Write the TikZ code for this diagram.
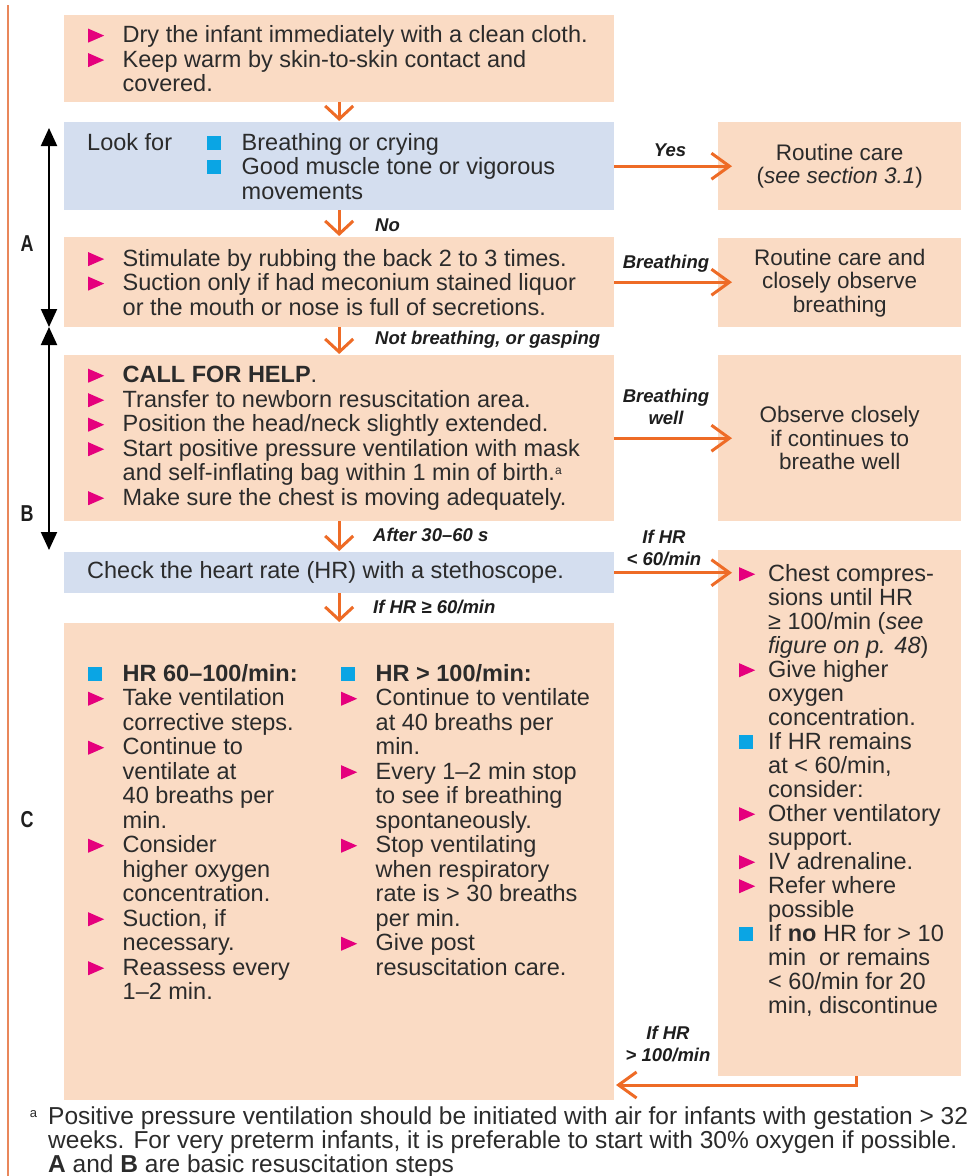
\documentclass[tikz,border=0pt]{standalone}
\usepackage{fontspec}
\setmainfont{Liberation Sans}
\newfontfamily\abcfont[FakeStretch=0.78]{Liberation Sans}
\usetikzlibrary{arrows.meta}
\definecolor{peach}{HTML}{FADBC4}
\definecolor{lblue}{HTML}{D4DEEF}
\definecolor{orarr}{HTML}{EE6B26}
\definecolor{bmag}{HTML}{E5007D}
\definecolor{bcyan}{HTML}{0AA5E4}
\definecolor{txtc}{HTML}{2B2B2B}
\definecolor{lblc}{HTML}{1E1E1E}
\definecolor{sideline}{HTML}{E9875B}
\newcommand\tri{\tikz[baseline=0pt]\fill[bmag](0pt,0pt)--(0pt,14pt)--(16pt,7pt)--cycle;}
\newcommand\sqb{\tikz[baseline=0pt]\fill[bcyan](0pt,0.5pt) rectangle (14pt,14.5pt);}
\newcommand\TI{\makebox[34.5pt][l]{\tri}}
\newcommand\SQ{\makebox[34.5pt][l]{\sqb}}
\newcommand\IN{\hspace*{34.5pt}}
\newcommand\TIc{\makebox[29pt][l]{\tri}}
\newcommand\SQc{\makebox[29pt][l]{\sqb}}
\newcommand\INc{\hspace*{29pt}}
\newcommand\supa{\raisebox{6pt}{\fontsize{12}{12}\selectfont a}}
\tikzset{
  pbox/.style={fill=peach, draw=none, inner sep=0pt, anchor=north west},
  bbox/.style={fill=lblue, draw=none, inner sep=0pt, anchor=north west},
  txt/.style={inner sep=0pt, align=left, text=txtc, font=\fontsize{23.5}{24.5}\selectfont},
  ctxt/.style={inner sep=0pt, align=center, text=txtc, font=\fontsize{22.5}{23.5}\selectfont},
  lbl/.style={inner sep=0pt, text=lblc, align=center, font=\fontsize{18.5}{21.5}\selectfont\bfseries\itshape},
  abc/.style={inner sep=0pt, text=lblc, font=\fontsize{23}{23}\abcfont\bfseries},
  darr/.style={draw=orarr, line width=3pt, -{Straight Barb[length=13pt,width=28pt,line width=3pt]}},
  harr/.style={draw=orarr, line width=3pt, -{Straight Barb[length=18pt,width=26pt,line width=3pt]}},
  barr/.style={draw=black, line width=2pt, {Triangle[length=18pt,width=16pt]}-{Triangle[length=18pt,width=16pt]}},
}
\begin{document}
\begin{tikzpicture}[x=1pt,y=-1pt]
\useasboundingbox[fill=white] (0,0) rectangle (976,1176);
\draw[sideline, line width=1.5pt] (8,5) -- (8,1176);

% boxes
\node[pbox, minimum width=550pt, minimum height=87pt] (b1) at (64,15) {};
\node[bbox, minimum width=550pt, minimum height=88pt] (b2) at (64,122) {};
\node[pbox, minimum width=550pt, minimum height=90pt] (b3) at (64,237) {};
\node[pbox, minimum width=550pt, minimum height=166pt] (b4) at (64,355) {};
\node[bbox, minimum width=550pt, minimum height=41pt] (b5) at (64,552) {};
\node[pbox, minimum width=550pt, minimum height=477pt] (b6) at (64,623) {};
\node[pbox, minimum width=243pt, minimum height=88pt] (rc1) at (718,122) {};
\node[pbox, minimum width=243pt, minimum height=89pt] (rc2) at (718,238) {};
\node[pbox, minimum width=243pt, minimum height=166pt] (rc3) at (718,355) {};
\node[pbox, minimum width=243pt, minimum height=526pt] (chest) at (718,550) {};

% texts
\node[txt, anchor=west] (t1) at ([xshift=24pt]b1.west) {%
\TI Dry the infant immediately with a clean cloth.\\
\TI Keep warm by skin-to-skin contact and\\
\IN covered.};
\node[txt, anchor=west] (t2) at ([xshift=23pt]b2.west) {%
\makebox[120pt][l]{Look for}\SQ Breathing or crying\\
\hspace*{120pt}\SQ Good muscle tone or vigorous\\
\hspace*{154.5pt}movements};
\node[txt, anchor=west] (t3) at ([xshift=24pt]b3.west) {%
\TI Stimulate by rubbing the back 2 to 3 times.\\
\TI Suction only if had meconium stained liquor\\
\IN or the mouth or nose is full of secretions.};
\node[txt, anchor=west] (t4) at ([xshift=24pt]b4.west) {%
\TI \textbf{CALL FOR HELP}.\\
\TI Transfer to newborn resuscitation area.\\
\TI Position the head/neck slightly extended.\\
\TI Start positive pressure ventilation with mask\\
\IN and self-inflating bag within 1 min of birth.\supa\\
\TI Make sure the chest is moving adequately.};
\node[txt, anchor=west] (t5) at ([xshift=23pt]b5.west) {Check the heart rate (HR) with a stethoscope.};
\node[txt, anchor=north west] (c1) at ([xshift=24pt,yshift=-41pt]b6.north west) {%
\SQ \textbf{HR 60–100/min:}\\
\TI Take ventilation\\
\IN corrective steps.\\
\TI Continue to\\
\IN ventilate at\\
\IN 40 breaths per\\
\IN min.\\
\TI Consider\\
\IN higher oxygen\\
\IN concentration.\\
\TI Suction, if\\
\IN necessary.\\
\TI Reassess every\\
\IN 1–2 min.};
\node[txt, anchor=north west] (c2) at ([xshift=277pt,yshift=-41pt]b6.north west) {%
\SQ \textbf{HR > 100/min:}\\
\TI Continue to ventilate\\
\IN at 40 breaths per\\
\IN min.\\
\TI Every 1–2 min stop\\
\IN to see if breathing\\
\IN spontaneously.\\
\TI Stop ventilating\\
\IN when respiratory\\
\IN rate is > 30 breaths\\
\IN per min.\\
\TI Give post\\
\IN resuscitation care.};
\node[ctxt] (r1) at (rc1.center) {Routine care\\(\textit{see section 3.1})};
\node[ctxt] (r2) at (rc2.center) {Routine care and\\closely observe\\breathing};
\node[ctxt] (r3) at (rc3.center) {Observe closely\\if continues to\\breathe well};
\node[txt, anchor=north west, font=\fontsize{23.5}{24}\selectfont] (t6) at ([xshift=21pt,yshift=-14pt]chest.north west) {%
\TIc Chest compres-\\
\INc sions until HR\\
\INc ≥ 100/min (\textit{see}\\
\INc \textit{figure on p. 48})\\
\TIc Give higher\\
\INc oxygen\\
\INc concentration.\\
\SQc If HR remains\\
\INc at < 60/min,\\
\INc consider:\\
\TIc Other ventilatory\\
\INc support.\\
\TIc IV adrenaline.\\
\TIc Refer where\\
\INc possible\\
\SQc If \textbf{no} HR for > 10\\
\INc min\ \ or remains\\
\INc < 60/min for 20\\
\INc min, discontinue};

% vertical arrows
\draw[darr, shorten >=1pt] (b1.south) -- (b2.north);
\draw[darr, shorten >=1pt] (b2.south) -- (b3.north);
\draw[darr, shorten >=1pt] (b3.south) -- (b4.north);
\draw[darr, shorten >=1pt] (b4.south) -- (b5.north);
\draw[darr, shorten >=1pt] (b5.south) -- (b6.north);
% horizontal arrows
\draw[harr, shorten >=-14pt] (b2.east) -- (b2.east -| rc1.west);
\draw[harr, shorten >=-14pt] (b3.east) -- (b3.east -| rc2.west);
\draw[harr, shorten >=-14pt] (b4.east) -- (b4.east -| rc3.west);
\draw[harr, shorten >=-14pt] (b5.east) -- (b5.east -| chest.west);
\coordinate (rt) at (856,1076);
\coordinate (ret) at (616,1085);
\draw[harr] (rt) |- (ret);

% labels
\node[lbl] (lyes) at (670,150) {Yes};
\node[lbl, anchor=west] (lno) at (375,225) {No};
\node[lbl] (lbr) at (666,264) {Breathing};
\node[lbl, anchor=west] (lnb) at (375,340) {Not breathing, or gasping};
\node[lbl] (lbw) at (666,407) {Breathing\\well};
\node[lbl, anchor=west] (laf) at (373,535) {After 30–60 s};
\node[lbl] (lh1) at (664,548) {If HR\\< 60/min};
\node[lbl, anchor=west] (lh2) at (373,607) {If HR ≥ 60/min};
\node[lbl] (lh3) at (668,1044) {If HR\\> 100/min};

% A B C
\coordinate (aT) at (49,128);
\coordinate (aB) at (49,327);
\coordinate (bB) at (49,550);
\draw[barr] (aT) -- (aB);
\draw[barr] (aB) -- (bB);
\node[abc] (lA) at (27,244) {A};
\node[abc] (lB) at (27,514) {B};
\node[abc] (lC) at (27,820) {C};

% footnote
\node[txt, anchor=north west, font=\fontsize{24.5}{20.5}\selectfont] (fn) at (48,1107) {%
\llap{\raisebox{7pt}{\fontsize{13}{13}\selectfont a}\hspace{11pt}}Positive pressure ventilation should be initiated with air for infants with gestation > 32\\
weeks. For very preterm infants, it is preferable to start with 30\% oxygen if possible.\\
\textbf{A} and \textbf{B} are basic resuscitation steps};
\end{tikzpicture}
\end{document}
